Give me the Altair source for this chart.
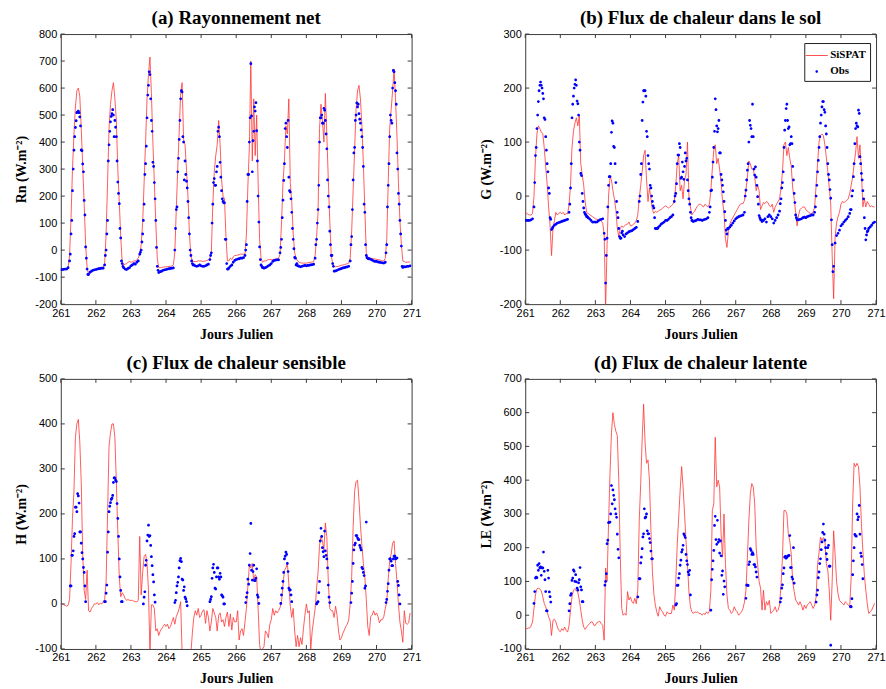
import altair as alt
import pandas as pd

N = None
DAYS = list(range(261, 271))
X_TICKS = list(range(261, 272))

# ---- (a) Rayonnement net: values on the hour (h0..h23) for each day ----
RN_SISPAT = [
    [-70, -71, -72, -71, -70, -65, -20, 120, 300, 430, 530, 590, 600, 570, 450, 310, 170, 20, -65, -90, -85, -80, -76, -73],
    [-71, -70, -69, -68, -67, -66, -50, 60, 250, 450, 540, 590, 620, 560, 480, 300, 180, 50, -45, -55, -52, -50, -45, -42],
    [-45, -43, -40, -40, -35, -30, -15, 20, 100, 250, 400, 560, 650, 715, 580, 400, 250, 100, -30, -65, -65, -64, -63, -62],
    [-62, -61, -60, -60, -58, -55, -10, 150, 300, 440, 580, 620, 410, 390, 300, 200, 60, -20, -40, -42, -43, -42, -40, -40],
    [-40, -42, -41, -40, -38, -36, -30, -5, 170, 290, 350, 390, 480, 390, 260, 200, 190, 50, -40, -40, -30, -35, -25, -20],
    [-20, -18, -17, -15, -15, -15, -15, 60, 240, 380, 700, 330, 560, 350, 500, 250, 40, -30, -45, -40, -40, -38, -35, -35],
    [-35, -35, -34, -33, -32, -30, -15, 100, 250, 330, 460, 430, 560, 250, 180, 60, -10, -30, -40, -45, -47, -48, -48, -48],
    [-48, -47, -46, -45, -44, -42, -20, 50, 140, 450, 540, 480, 400, 580, 430, 260, 110, -20, -50, -60, -62, -61, -60, -58],
    [-56, -55, -54, -52, -50, -48, -30, 70, 220, 370, 520, 590, 610, 560, 460, 320, 150, -10, -35, -30, -30, -30, -32, -33],
    [-34, -35, -36, -38, -40, -40, -30, 40, 250, 450, 520, 590, 670, 560, 420, 250, 110, 20, -40, -42, -45, -45, -44, -44],
]
RN_OBS = [
    [-72, -72, -71, -70, -70, -65, -40, 60, 220, 370, 454, 509, 515, 493, 371, 319, 184, 12, -70, -90, -82, -78, -75, -73],
    [-72, -70, -69, -68, -67, -67, -55, 0, 110, 390, 475, 505, 500, 480, 420, 252, 172, 45, -50, -65, -70, -72, -68, -65],
    [-58, -55, -50, -52, -45, -40, -15, 0, 60, 170, 320, 490, 610, 650, 480, 325, 250, 110, -60, -83, -80, -78, -75, -73],
    [-72, -70, -69, -68, -67, -66, 0, 150, 290, 410, 560, 585, 400, 330, 255, 180, 60, -20, -50, -55, -58, -60, -58, -55],
    [-58, -60, -60, -58, -55, -52, -35, -10, 170, 265, 240, 310, 455, 325, 220, 180, 175, 40, -70, -66, -60, -55, -45, -38],
    [-35, -33, -32, -30, -30, -28, -20, 20, 280, 400, 690, 290, 440, 515, 442, 200, 12, -55, -65, -67, -65, -62, -58, -55],
    [-50, -42, -38, -37, -36, -36, -10, 40, 185, 320, 470, 380, 270, 215, 140, 40, -27, -55, -58, -60, -62, -60, -58, -57],
    [-58, -57, -56, -55, -54, -52, -30, 40, 150, 400, 490, 470, 525, 480, 375, 200, 70, -20, -50, -78, -77, -75, -72, -70],
    [-68, -66, -65, -63, -62, -60, -40, 50, 260, 380, 500, 530, 505, 470, 420, 310, 140, -20, -30, -32, -34, -37, -40, -42],
    [-42, -44, -45, -46, -47, -48, -45, 20, 240, 420, 480, 600, 660, 590, 360, 210, 110, 15, -64, -62, -62, -60, -60, -58],
]
# Obs on the half hour, 06:30 .. 18:30
RN_OBS_HALF = [
    [-15, 110, 300, 420, 479, 512, 509, 460, 368, 290, 130, -30, -90],
    [-20, 60, 330, 440, 495, 520, 420, 455, 330, 210, 80, -40, -60],
    [-8, 30, 110, 280, 385, 574, 660, 560, 440, 310, 190, 10, -75],
    [80, 160, 340, 480, 590, 420, 260, 280, 230, 120, 0, -40, -55],
    [-20, 100, 250, 240, 290, 440, 420, 270, 190, 175, 40, -50, -70],
    [0, 180, 280, 490, 497, 405, 530, 546, 330, 104, -35, -60, -65],
    [10, 120, 258, 450, 420, 480, 220, 190, 80, 5, -30, -50, -58],
    [20, 100, 240, 490, 500, 470, 518, 430, 260, 160, 20, -20, -60],
    [20, 150, 360, 480, 545, 540, 485, 445, 380, 170, 20, -28, -32],
    [-10, 160, 320, 500, 470, 665, 620, 540, 300, 170, 60, -60, -62],
]

# ---- (b) Flux de chaleur dans le sol ----
G_SISPAT = [
    [-30, -32, -34, -35, -35, -32, 0, 70, 115, 130, 125, 118, 116, 90, 55, 22, -20, -55, -110, -60, -45, -30, -35, -32],
    [-30, -33, -30, -35, -32, -33, -15, 20, 90, 120, 135, 145, 130, 150, 60, 40, 20, -10, -30, -32, -34, -36, -38, -40],
    [-42, -43, -44, -45, -46, -50, -70, -210, -90, 0, 35, 30, 10, -5, -25, -60, -75, -60, -55, -58, -55, -52, -52, -48],
    [-55, -55, -52, -50, -45, -35, -5, 20, 45, 75, 85, 30, -10, 15, -5, -25, -32, -28, -30, -28, -26, -25, -22, -20],
    [-18, -20, -22, -20, -18, -15, -10, 20, 60, 75, 10, 20, -5, 30, 40, 100, 0, -20, -35, -30, -28, -22, -18, -15],
    [-15, -18, -20, -15, -18, -20, -15, 10, 50, 85, 95, 60, 70, 50, 25, -10, -30, -80, -95, -65, -52, -45, -40, -35],
    [-30, -25, -20, -15, -14, -14, -8, 12, 35, 65, 60, 50, 50, 35, 10, 20, 10, -25, -18, -12, -14, -10, -12, -18],
    [-20, -15, -30, -20, -15, -10, -5, 15, 45, 95, 100, 75, 90, 70, 55, 15, -5, -30, -55, -35, -25, -22, -20, -20],
    [-25, -28, -30, -32, -32, -30, -20, 20, 60, 100, 112, 115, 112, 95, 72, 45, 15, -15, -110, -190, -75, -50, -38, -30],
    [-15, -10, -12, -10, -8, -5, 5, 20, 35, 60, 80, 110, 70, 95, 45, -20, -5, -20, -10, -15, -20, -18, -20, -20],
]
G_OBS = [
    [-45, -45, -45, -45, -44, -42, -20, 75, 125, 175, 205, 205, 190, 145, 110, 60, 15, -40, -62, -57, -54, -52, -50, -49],
    [-48, -47, -46, -45, -44, -43, -30, 15, 145, 185, 207, 205, 171, 100, 42, 5, -22, -33, -38, -40, -42, -45, -48, -48],
    [-48, -48, -46, -44, -43, -42, -69, -161, -78, 20, 36, 118, 135, 90, 25, -30, -60, -78, -68, -72, -75, -70, -68, -66],
    [-65, -64, -62, -60, -58, -47, -10, 40, 140, 195, 195, 120, 75, 50, 15, -10, -22, -60, -60, -58, -55, -52, -50, -48],
    [-45, -45, -43, -40, -38, -35, -10, 5, 60, 76, 90, 35, 45, 55, 65, 30, -5, -30, -45, -47, -46, -45, -43, -44],
    [-44, -45, -44, -43, -42, -40, -30, 10, 35, 90, 180, 130, 125, 80, 40, 20, -10, -45, -70, -60, -57, -54, -50, -46],
    [-42, -40, -38, -37, -36, -35, -30, 11, 48, 100, 131, 110, 110, 39, 35, -1, -36, -44, -47, -45, -42, -48, -38, -35],
    [-38, -42, -50, -45, -40, -35, -28, -5, 25, 90, 140, 170, 125, 95, 110, 55, 5, -35, -44, -44, -43, -42, -40, -39],
    [-40, -38, -37, -36, -35, -35, -30, 0, 45, 90, 135, 165, 175, 155, 115, 60, 30, -4, -90, -130, -87, -73, -69, -63],
    [-55, -52, -48, -45, -42, -38, -32, -25, 10, 60, 125, 130, 159, 73, 42, 10, -40, -81, -66, -60, -57, -54, -50, -48],
]
G_OBS_HALF = [
    [25, 90, 150, 195, 211, 200, 180, 142, 85, 45, 5, -43, -60],
    [-15, 60, 170, 200, 215, 176, 150, 85, 38, -10, -30, -35, -38],
    [-80, -110, -20, 36, 60, 139, 92, 60, -10, -40, -75, -78, -65],
    [0, 60, 174, 195, 185, 110, 60, 20, 0, -18, -40, -60, -60],
    [0, 23, 76, 97, 33, 63, 31, 80, 70, 10, -15, -40, -46],
    [-20, 11, 63, 120, 160, 119, 140, 80, 30, 8, -29, -63, -60],
    [0, 30, 60, 140, 125, 170, 50, 54, 20, -15, -40, -44, -45],
    [-14, 15, 45, 122, 162, 140, 128, 97, 97, 30, -12, -40, -44],
    [-20, 20, 66, 110, 150, 175, 160, 130, 90, 40, 12, -44, -140],
    [-25, 0, 36, 97, 135, 128, 153, 60, 30, -5, -60, -72, -64],
]

# ---- (c) Flux de chaleur sensible ----
H_SISPAT = [
    [0, 0, -2, -3, -5, -3, 10, 90, 190, 250, 370, 400, 410, 360, 270, 110, 30, 10, 75, -15, -18, -10, -5, 0],
    [0, 3, -2, 2, 0, 5, 10, 50, 200, 350, 380, 400, 400, 370, 270, 160, 60, 16, 25, 20, 12, 8, 10, 8],
    [8, 8, 6, 5, 5, 8, 150, 20, 70, 105, 110, 90, 30, -110, -2, -2, -10, -60, -55, -70, -60, -55, -50, -45],
    [-50, -45, -55, -50, -40, -30, -45, -28, -20, -10, 5, -110, -130, -140, -120, -110, -105, -110, -65, -30, -15, -25, -10, -30],
    [-25, -15, -13, -43, -15, -30, -60, -40, -10, -20, -30, -60, -25, -20, -40, -35, -50, -30, -18, -50, -22, -58, -30, -40],
    [-40, -15, -80, -60, -55, -70, -40, -10, 40, 85, 80, 90, 50, 65, 60, -10, -90, -110, -100, -95, -60, -65, -75, -45],
    [-35, -10, -25, -15, -20, -15, -8, 5, 40, 75, 80, 90, 45, -5, -30, -10, -60, -95, -70, -95, -75, -90, -55, -25],
    [0, -20, -15, -100, -60, -35, -10, 35, 70, 130, 150, 140, 120, 180, 150, 50, -10, -15, -15, -30, -5, -25, -60, -80],
    [-75, -65, -58, -50, -45, -35, 0, 60, 170, 250, 272, 275, 230, 175, 130, 90, 60, 10, -50, -70, -28, -25, -15, -25],
    [-20, -28, -42, -35, -35, -28, -10, 5, 55, 95, 110, 135, 140, 90, 50, 0, -40, -60, -85, -15, -43, -45, -42, -20],
]
H_OBS = [
    [N] * 7 + [40, 108, 150, 215, 205, 240, 160, 135, 100, 70, 5] + [N] * 6,
    [N] * 6 + [5, 24, 115, 205, 225, 235, 270, 280, 272, 190, 100, 30, 5] + [N] * 5,
    [N] * 9 + [15, 86, 140, 175, 152, 105, 65, 20] + [N] * 7,
    [N] * 6 + [3, 25, 48, 80, 101, 55, 30, 15, 5] + [N] * 9,
    [N] * 6 + [5, 16, 80, 70, 33, 80, 60, 68, 20, 15, 0] + [N] * 7,
    [N] * 7 + [15, 55, 86, 179, 53, 86, 52, 78, 15] + [N] * 8,
    [N] * 7 + [20, 50, 100, 115, 90, 35, 31, 5] + [N] * 9,
    [N] * 7 + [0, 5, 50, 168, 125, 105, 118, 100, 42, 3] + [N] * 7,
    [N] * 7 + [24, 90, 131, 152, 147, 143, 125, 81, 70, 35, 182] + [N] * 6,
    [N] * 7 + [10, 45, 100, 95, 85, 106, 100, 102, 41, 0] + [N] * 7,
]
H_OBS_HALF = [
    [40, 108, 118, 156, 215, 245, 224, 160, 114, 81, 40, N, N],
    [5, 42, 160, 217, 232, 241, 280, 275, 223, 150, 60, 5, N],
    [N, N, 0, 27, 97, 153, 150, 130, 85, 49, 4, N, N],
    [8, 40, 60, 96, 94, 53, 38, 11, -4, N, N, N, N],
    [10, 57, 88, 35, 60, 80, 55, 60, 18, 0, N, N, N],
    [3, 25, 44, 112, 75, 72, 52, 57, 20, 1, N, N, N],
    [1, 35, 70, 106, 110, 72, 31, 20, N, N, N, N, N],
    [N, 3, 25, 140, 150, 116, 162, 108, 80, 15, N, N, N],
    [3, 50, 120, 135, 152, 143, 130, 120, 78, 63, 40, N, N],
    [3, 28, 75, 100, 85, 100, 106, 102, 50, 20, N, N, N],
]

# ---- (d) Flux de chaleur latente ----
LE_SISPAT = [
    [-40, -40, -38, -38, -32, -20, 20, 60, 78, 80, 78, 72, 55, 35, 25, 10, -5, -15, -60, -15, -12, -20, -35, -45],
    [-49, -40, -45, -35, -45, -50, -30, 15, 55, 74, 78, 72, 68, 45, 15, -15, -35, -42, -35, -30, -25, -20, -20, -30],
    [-30, -22, -20, -18, -25, -30, -74, 140, 100, 270, 420, 540, 600, 565, 545, 532, 400, 180, 20, 0, 5, 0, 70, 45],
    [54, 40, 35, 50, 34, 74, 280, 390, 520, 625, 510, 450, 460, 400, 250, 130, 64, 30, 10, -3, 25, 15, 10, 0],
    [-3, 10, 5, 5, 5, 30, 15, 100, 210, 290, 370, 440, 380, 300, 220, 150, 70, 25, 10, 5, 10, 8, 10, 5],
    [5, 0, 5, 2, 10, 5, 12, 74, 310, 330, 527, 380, 400, 380, 240, 172, 300, 150, 60, 20, 15, 5, 10, 25],
    [15, 10, 0, 5, 10, 20, 39, 74, 170, 280, 360, 390, 380, 330, 200, 150, 100, 80, 15, 74, 15, 40, 30, 44],
    [5, 10, 15, 25, 10, 15, 30, 90, 170, 310, 310, 300, 240, 220, 180, 100, 70, 45, 39, 30, 40, 30, 15, 30],
    [20, 30, 35, 40, 30, 20, 30, 54, 150, 185, 231, 222, 230, 222, 153, 133, 74, -15, 100, 250, 180, 100, 64, 44],
    [39, 35, 30, 40, 35, 30, 25, 113, 330, 450, 440, 450, 440, 380, 271, 190, 120, 74, 34, 5, 10, 15, 25, 35],
]
LE_OBS = [
    [N] * 6 + [35, 110, 111, 133, 140, 118, 140, 130, 70, 13, 110, 55] + [N] * 6,
    [N] * 6 + [13, 59, 103, 134, 100, 99, 74, 105, 84, 40] + [N] * 8,
    [N] * 7 + [100, 212, 274, 276, 384, 371, 342, 300, 240, 170] + [N] * 7,
    [N] * 5 + [54, 108, 155, 197, 241, 288, 300, 241, 227, 190, 167] + [N] * 8,
    [N] * 7 + [30, 88, 110, 148, 187, 207, 236, 180, 150, 120, 60] + [N] * 6,
    [N] * 7 + [15, 136, 192, 293, 210, 216, 184, 176, 131, 101] + [N] * 7,
    [N] * 7 + [50, 89, 150, 197, 180, 180, 150, 128] + [N] * 9,
    [N] * 7 + [50, 90, 140, 174, 172, 176, 236, 141, 107, 95] + [N] * 7,
    [N] * 7 + [39, 74, 128, 167, 217, 270, 222, 182, 200, 145, -89] + [N] * 6,
    [N] * 7 + [25, 120, 200, 235, 300, 291, 240, 174, 108] + [N] * 8,
]
LE_OBS_HALF = [
    [70, 113, 148, 153, 143, 140, 187, 105, 13, 133, 69, 39, N],
    [34, 64, 110, 130, 120, 80, 96, 141, 75, 40, N, N, N],
    [89, 123, 222, 275, 300, 330, 355, 315, 290, 195, N, N, N],
    [108, 172, 232, 315, 291, 250, 241, 215, 167, N, N, N, N],
    [N, 34, 89, 123, 163, 194, 241, 230, 161, 128, 133, N, N],
    [N, 105, 161, 266, 224, 281, 224, 220, 118, 62, 84, N, N],
    [N, 89, 88, 158, 192, 185, 150, 143, 113, N, N, N, N],
    [39, 80, 123, 172, 169, 175, 177, 141, 113, 200, N, N, N],
    [N, 60, 111, 153, 194, 245, 240, 200, 165, 207, 145, N, N],
    [25, 49, 161, 239, 234, 283, 325, 184, 150, N, N, N, N],
]

Y_TICKS_RN = [-200, -100, 0, 100, 200, 300, 400, 500, 600, 700, 800]
Y_TICKS_G = [-200, -100, 0, 100, 200, 300]
Y_TICKS_H = [-100, 0, 100, 200, 300, 400, 500]
Y_TICKS_LE = [-100, 0, 100, 200, 300, 400, 500, 600, 700]

SERIES = ["SiSPAT", "Obs"]
RED = "#ff3535"
BLUE = "#0000ff"
FRAME = "#3c3c3c"
W, H = 352, 271
TICK = 4
DOT = "M-0.15,0A0.15,0.15,0,1,0,0.15,0A0.15,0.15,0,1,0,-0.15,0Z"
LINE_SYM = "M-1.3,-0.05H1.3V0.05H-1.3Z"


def frame(rows, first_hour=0.0):
    recs = []
    for d, row in zip(DAYS, rows):
        for i, v in enumerate(row):
            if v is not None:
                recs.append({"t": d + (first_hour + i) / 24.0, "v": v})
    return pd.DataFrame(recs)


def panel(title, ytitle, model, obs, obs_half, ydom, yticks, legend=False):
    xs = alt.Scale(domain=[261, 271], nice=False, zero=False)
    ys = alt.Scale(domain=ydom, nice=False, zero=False)
    xax = alt.Axis(values=X_TICKS, title="Jours Julien", labelExpr="'' + datum.value",
                   labelFlush=False, labelOverlap=False, labelPadding=3, titlePadding=9)
    yax = alt.Axis(values=yticks, title=ytitle, labelExpr="'' + datum.value",
                   labelOverlap=False, labelPadding=4, titlePadding=6)
    X = alt.X("t:Q", scale=xs, axis=xax)
    Y = alt.Y("v:Q", scale=ys, axis=yax)
    line = alt.Chart(frame(model)).mark_line(color=RED, strokeWidth=0.8, clip=True).encode(x=X, y=Y)
    obs_df = pd.concat([frame(obs), frame(obs_half, 6.5)], ignore_index=True)
    if legend:
        leg = alt.Legend(title=None, orient="none", legendX=280, legendY=9,
                         fillColor="white", strokeColor="#222222", padding=4,
                         symbolSize=289, symbolStrokeWidth=0, rowPadding=2, labelOffset=5,
                         labelFont="Liberation Serif", labelFontWeight="bold",
                         labelFontSize=11, labelColor="black")
        pts = alt.Chart(obs_df.assign(s="Obs")).mark_point(
            filled=True, size=350, opacity=1, clip=True).encode(
            x=X, y=Y,
            color=alt.Color("s:N", scale=alt.Scale(domain=SERIES, range=[RED, BLUE]), legend=leg),
            shape=alt.Shape("s:N", scale=alt.Scale(domain=SERIES, range=[LINE_SYM, DOT]), legend=leg),
        )
    else:
        pts = alt.Chart(obs_df).mark_point(
            filled=True, size=350, shape=DOT, color=BLUE, opacity=1, clip=True).encode(x=X, y=Y)
    xt = pd.DataFrame({"t": X_TICKS})
    yt = pd.DataFrame({"v": yticks})
    rule = dict(color=FRAME, strokeWidth=1)
    bottom = alt.Chart(xt).mark_rule(**rule).encode(x=X, y=alt.value(H), y2=alt.value(H - TICK))
    top = alt.Chart(xt).mark_rule(**rule).encode(x=X, y=alt.value(0), y2=alt.value(TICK))
    left = alt.Chart(yt).mark_rule(**rule).encode(y=Y, x=alt.value(0), x2=alt.value(TICK))
    right = alt.Chart(yt).mark_rule(**rule).encode(y=Y, x=alt.value(W), x2=alt.value(W - TICK))
    return alt.layer(line, pts, bottom, top, left, right).properties(
        width=W, height=H,
        title=alt.TitleParams(title, font="Liberation Serif", fontSize=19, fontWeight="bold",
                              color="black", offset=0, anchor="middle"),
    )


pa = panel("(a) Rayonnement net", "Rn (W.m\u207b\u00b2)", RN_SISPAT, RN_OBS, RN_OBS_HALF,
           [-200, 800], Y_TICKS_RN)
pb = panel("(b) Flux de chaleur dans le sol", "G (W.m\u207b\u00b2)", G_SISPAT, G_OBS, G_OBS_HALF,
           [-200, 300], Y_TICKS_G, legend=True)
pc = panel("(c) Flux de chaleur sensible", "H (W.m\u207b\u00b2)", H_SISPAT, H_OBS, H_OBS_HALF,
           [-100, 500], Y_TICKS_H)
pd_ = panel("(d) Flux de chaleur latente", "LE (W.m\u207b\u00b2)", LE_SISPAT, LE_OBS, LE_OBS_HALF,
            [-100, 700], Y_TICKS_LE)

row1 = alt.hconcat(pa, pb, spacing=57).resolve_scale(color="independent", shape="independent")
row2 = alt.hconcat(pc, pd_, spacing=57).resolve_scale(color="independent", shape="independent")

chart = alt.vconcat(row1, row2, spacing=11).resolve_scale(
    color="independent", shape="independent"
).properties(
    padding={"left": 14, "top": 7, "right": 0, "bottom": 0}
).configure(background="white").configure_view(
    stroke=FRAME, strokeWidth=1
).configure_axis(
    grid=False, ticks=False, domain=False, labelOverlap=False,
    labelFont="Liberation Sans", labelFontSize=11, labelColor="black",
    titleFont="Liberation Serif", titleFontSize=14, titleFontWeight="bold", titleColor="black",
)

chart.save("out.html", embed_options={"renderer": "svg", "actions": False})
